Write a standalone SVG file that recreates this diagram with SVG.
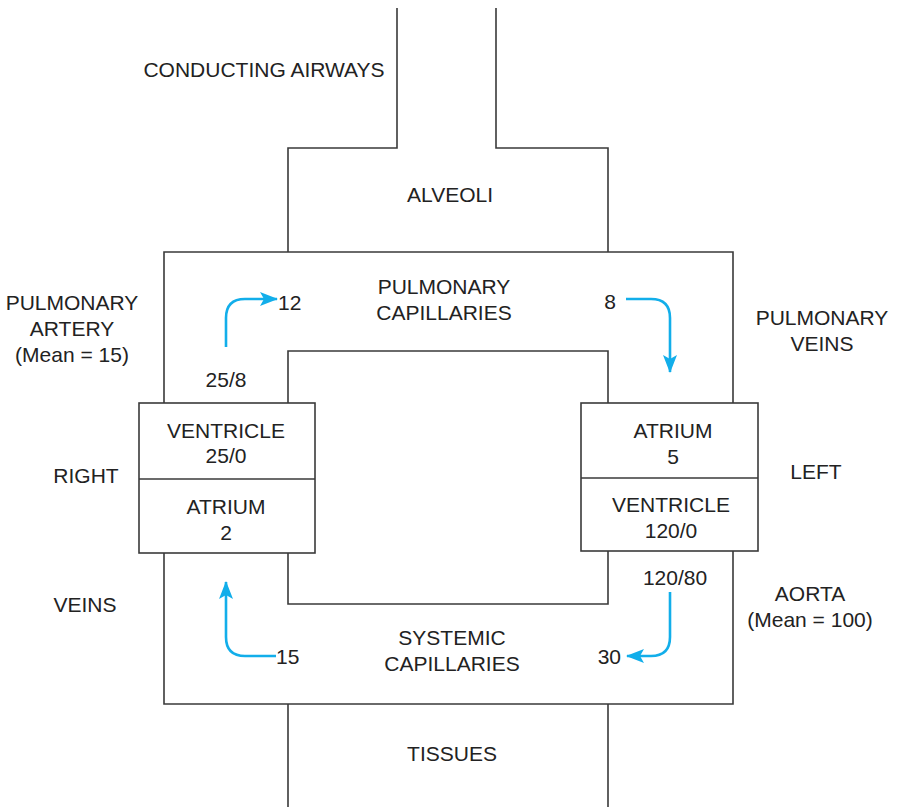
<svg xmlns="http://www.w3.org/2000/svg" width="897" height="807" viewBox="0 0 897 807">
<style>
.ln{fill:none;stroke:#3a3a3a;stroke-width:1.6}
.bx{fill:#fff;stroke:#3a3a3a;stroke-width:1.6}
.fl{fill:none;stroke:#12aeea;stroke-width:2.6}
text{font-family:"Liberation Sans",Arial,sans-serif;font-size:21px;fill:#222;text-anchor:middle}
.s{text-anchor:start}
.e{text-anchor:end}
</style>
<defs>
<marker id="ah" viewBox="0 0 18 14" refX="17" refY="7" markerWidth="18" markerHeight="14" markerUnits="userSpaceOnUse" orient="auto">
<path d="M0,0 L18,7 L0,14 L4,7 z" fill="#12aeea"/>
</marker>
</defs>
<rect width="897" height="807" fill="#fff"/>
<g id="structure">
<path class="ln" d="M397,8 V148 H288 V252 M496,8 V148 H608 V252"/>
<path class="ln" d="M164,403 V252 H733 V403"/>
<path class="ln" d="M288,403 V351 H608 V403"/>
<path class="ln" d="M288,553 V604 H608 V551"/>
<path class="ln" d="M164,553 V704 H733 V551"/>
<path class="ln" d="M288,704 V807 M608,704 V807"/>
</g>
<g id="right-heart">
<rect class="bx" x="139" y="403" width="176" height="150"/>
<line class="ln" x1="139" y1="479" x2="315" y2="479"/>
<text x="226" y="438">VENTRICLE</text>
<text x="226" y="463">25/0</text>
<text x="226" y="514">ATRIUM</text>
<text x="226" y="540">2</text>
</g>
<g id="left-heart">
<rect class="bx" x="581" y="403" width="177" height="148"/>
<line class="ln" x1="581" y1="478" x2="758" y2="478"/>
<text x="673" y="438">ATRIUM</text>
<text x="673" y="464">5</text>
<text x="671" y="512">VENTRICLE</text>
<text x="671" y="538">120/0</text>
</g>
<g id="connectors">
<path class="fl" d="M226,347 V318 Q226,299 245,299 H277" marker-end="url(#ah)"/>
<path class="fl" d="M626,299 H651 Q670,299 670,318 V372" marker-end="url(#ah)"/>
<path class="fl" d="M276,656 H245 Q226,656 226,637 V582" marker-end="url(#ah)"/>
<path class="fl" d="M670,592 V637 Q670,656 651,656 H627" marker-end="url(#ah)"/>
</g>
<g id="labels">
<text x="264" y="77">CONDUCTING AIRWAYS</text>
<text x="450" y="202">ALVEOLI</text>
<text x="444" y="294">PULMONARY</text>
<text x="444" y="320">CAPILLARIES</text>
<text x="72" y="310">PULMONARY</text>
<text x="72" y="336">ARTERY</text>
<text x="72" y="362">(Mean = 15)</text>
<text x="822" y="325">PULMONARY</text>
<text x="822" y="351">VEINS</text>
<text class="s" x="278" y="310">12</text>
<text x="226" y="387">25/8</text>
<text class="e" x="616" y="309">8</text>
<text x="86" y="483">RIGHT</text>
<text x="816" y="479">LEFT</text>
<text x="675" y="585">120/80</text>
<text x="85" y="612">VEINS</text>
<text x="810" y="601">AORTA</text>
<text x="810" y="627">(Mean = 100)</text>
<text x="452" y="645">SYSTEMIC</text>
<text x="452" y="671">CAPILLARIES</text>
<text class="s" x="276" y="664">15</text>
<text class="e" x="621" y="664">30</text>
<text x="452" y="761">TISSUES</text>
</g>
</svg>
